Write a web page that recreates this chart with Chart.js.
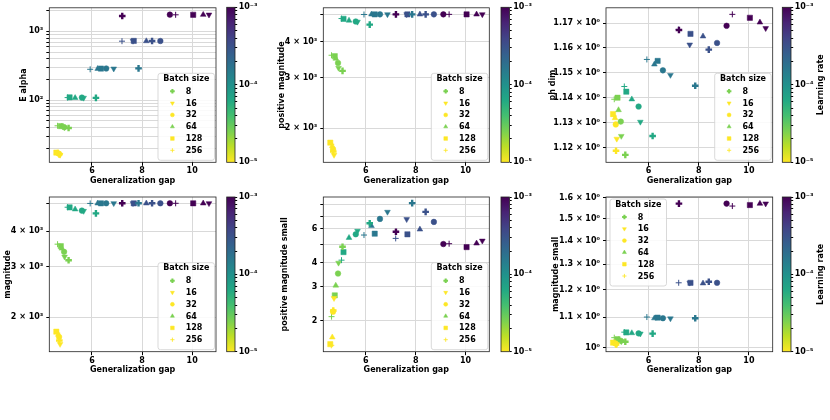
<!DOCTYPE html>
<html>
<head>
<meta charset="utf-8">
<script src="https://cdn.jsdelivr.net/npm/chart.js@4.4.1/dist/chart.umd.min.js"></script>
<style>
  body { margin: 0; background: #fff; width: 830px; height: 420px; position: relative; overflow: hidden; }
  canvas { position: absolute; left: 0; top: 0; }
</style>
</head>
<body>
<script>
// categories
const batchSizes = [8, 16, 32, 64, 128, 256];
const learningRates = [1e-5, 2.5e-5, 6.3e-5, 1.6e-4, 3.2e-4, 1e-3];

// rows follow learningRates, columns follow batchSizes
const genGap = [
    [4.70, 4.73, 4.69, 4.66, 4.58, 4.62],
    [5.07, 4.91, 4.89, 4.80, 4.76, 4.63],
    [6.16, 5.67, 5.60, 5.33, 5.11, 5.03],
    [7.86, 6.87, 6.57, 6.23, 6.36, 5.93],
    [8.40, 7.64, 8.73, 8.17, 7.67, 7.20],
    [7.21, 10.67, 9.11, 10.44, 10.04, 9.34]
];
const eAlpha = [
    [16.3, 16.0, 16.6, 17.0, 17.3, 17.2],
    [39.3, 40.0, 40.5, 41.5, 42.0, 42.4],
    [108, 108, 109, 108, 110, 109],
    [290, 287, 289, 286, 288, 281],
    [724, 725, 724, 722, 726, 720],
    [1670, 1745, 1748, 1745, 1742, 1740]
];
const positiveMagnitude = [
    [1660, 1615, 1692, 1736, 1783, 1760],
    [3170, 3248, 3380, 3500, 3567, 3595],
    [4595, 4700, 4715, 4750, 4815, 4825],
    [4990, 4990, 4990, 4990, 4990, 4985],
    [4990, 4990, 4990, 4990, 4990, 4990],
    [4990, 4990, 4990, 4990, 4990, 4990]
];
const phDim = [
    [1.1189, 1.1236, 1.1293, 1.1318, 1.1334, 1.1326],
    [1.1173, 1.1247, 1.1304, 1.1350, 1.1399, 1.1393],
    [1.1247, 1.1303, 1.1364, 1.1393, 1.1423, 1.1444],
    [1.1447, 1.1490, 1.1509, 1.1533, 1.1547, 1.1553],
    [1.1593, 1.1613, 1.1620, 1.1647, 1.1657, 1.1675],
    [1.1673, 1.1680, 1.1690, 1.1704, 1.1723, 1.1737]
];
const magnitude = [
    [1660, 1613, 1708, 1740, 1782, 1760],
    [3165, 3254, 3385, 3478, 3545, 3600],
    [4610, 4700, 4715, 4765, 4840, 4845],
    [5000, 5000, 5000, 5000, 5000, 4995],
    [5000, 5000, 5000, 5000, 5000, 5000],
    [5000, 5000, 5000, 5000, 5000, 5000]
];
const positiveMagnitudeSmall = [
    [2.26, 2.62, 2.23, 1.64, 1.51, 1.49],
    [4.85, 4.00, 3.52, 3.05, 2.71, 2.10],
    [6.43, 5.86, 5.63, 5.40, 4.55, 4.13],
    [8.18, 7.36, 6.77, 6.22, 5.67, 5.58],
    [7.36, 6.74, 6.53, 5.97, 5.63, 5.36],
    [5.80, 5.21, 5.01, 5.05, 4.83, 5.03]
];
const magnitudeSmall = [
    [1.010, 1.011, 1.013, 1.015, 1.016, 1.017],
    [1.019, 1.020, 1.022, 1.025, 1.027, 1.032],
    [1.045, 1.045, 1.046, 1.047, 1.049, 1.050],
    [1.097, 1.096, 1.097, 1.097, 1.099, 1.101],
    [1.230, 1.226, 1.226, 1.224, 1.226, 1.226],
    [1.572, 1.572, 1.572, 1.572, 1.565, 1.560]
];

// tick values and labels
const gapTicks = [6, 8, 10];
const eAlphaTicks = [20, 30, 40, 50, 60, 70, 80, 90, 100, 200, 300, 400, 500, 600, 700, 800, 900, 1000, 2000];
const eAlphaLabels = { 100: '10²', 1000: '10³' };
const magTicks = [2000, 3000, 4000, 5000];
const magLabels = { 2000: '2 × 10³', 3000: '3 × 10³', 4000: '4 × 10³' };
const phDimTicks = [1.12, 1.13, 1.14, 1.15, 1.16, 1.17];
const phDimLabels = { 1.12: '1.12 × 10⁰', 1.13: '1.13 × 10⁰', 1.14: '1.14 × 10⁰', 1.15: '1.15 × 10⁰', 1.16: '1.16 × 10⁰', 1.17: '1.17 × 10⁰' };
const posSmallTicks = [2, 3, 4, 5, 6, 7, 8];
const posSmallLabels = { 2: '2', 3: '3', 4: '4', 6: '6' };
const magSmallTicks = [1.0, 1.1, 1.2, 1.3, 1.4, 1.5, 1.6];
const magSmallLabels = { 1: '10⁰', 1.1: '1.1 × 10⁰', 1.2: '1.2 × 10⁰', 1.3: '1.3 × 10⁰', 1.4: '1.4 × 10⁰', 1.5: '1.5 × 10⁰', 1.6: '1.6 × 10⁰' };
const lrTicks = [1e-5, 2e-5, 3e-5, 4e-5, 5e-5, 6e-5, 7e-5, 8e-5, 9e-5,
    1e-4, 2e-4, 3e-4, 4e-4, 5e-4, 6e-4, 7e-4, 8e-4, 9e-4, 1e-3];
const lrLabels = { 1e-5: '10⁻⁵', 1e-4: '10⁻⁴', 1e-3: '10⁻³' };

// styling
const FONT = { family: 'DejaVu Sans', size: 8, weight: 'bold' };
const CSS_FONT = 'bold 8px "DejaVu Sans"';
const GRID = '#d9d9d9';
const VIRIDIS = ['#440154', '#482475', '#414487', '#355f8d', '#2a788e', '#21918c',
    '#22a884', '#44bf70', '#7ad151', '#bddf26', '#fde725'];

const markerStyles = [
    { style: 'cross', radius: 3.3, border: 2.4, rotation: 0 },     // 8
    { style: 'triangle', radius: 3.3, border: 0.5, rotation: 180 }, // 16
    { style: 'circle', radius: 2.8, border: 0.5, rotation: 0 },     // 32
    { style: 'triangle', radius: 3.3, border: 0.5, rotation: 0 },   // 64
    { style: 'rect', radius: 3.7, border: 0.5, rotation: 0 },       // 128
    { style: 'cross', radius: 3.0, border: 1, rotation: 0 }         // 256
];
const legendColors = ['#7ad151', '#fde725', '#fde725', '#7ad151', '#fde725', '#fde725'];

function hexToRgb(h) {
    return [parseInt(h.slice(1, 3), 16), parseInt(h.slice(3, 5), 16), parseInt(h.slice(5, 7), 16)];
}

function viridis(t) {
    t = Math.min(1, Math.max(0, t));
    const pos = t * (VIRIDIS.length - 1);
    const i = Math.min(Math.floor(pos), VIRIDIS.length - 2);
    const f = pos - i;
    const a = hexToRgb(VIRIDIS[i]), b = hexToRgb(VIRIDIS[i + 1]);
    const c = a.map((v, k) => Math.round(v + (b[k] - v) * f));
    return `rgb(${c[0]},${c[1]},${c[2]})`;
}

function lrColor(lr) {
    const t = (Math.log10(lr) + 5) / 2;
    return viridis(1 - t);
}

function addCanvas() {
    const c = document.createElement('canvas');
    c.width = 830;
    c.height = 420;
    c.style.width = '830px';
    c.style.height = '420px';
    document.body.appendChild(c);
    return c;
}

const framePlugin = {
    id: 'frame',
    afterDraw(chart) {
        const a = chart.chartArea;
        const ctx = chart.ctx;
        ctx.save();
        ctx.strokeStyle = '#222';
        ctx.lineWidth = 0.8;
        ctx.strokeRect(a.left, a.top, a.right - a.left, a.bottom - a.top);
        ctx.restore();
    }
};

function drawMarker(ctx, m, x, y, scale) {
    const opts = {
        pointStyle: m.style,
        radius: m.radius * scale,
        rotation: m.rotation,
        borderWidth: m.style === 'cross' ? m.border * 0.85 : m.border
    };
    ctx.lineWidth = opts.borderWidth;
    Chart.helpers.drawPoint(ctx, opts, x, y);
}

const legendPlugin = {
    id: 'batchLegend',
    afterDatasetsDraw(chart, args, opts) {
        if (!opts.pos) return;
        const a = chart.chartArea;
        const ctx = chart.ctx;
        const w = 56.5, h = 87;
        const left = opts.pos === 'lr' ? a.right - w - 1.5 : a.left + 4;
        const top = opts.pos === 'lr' ? a.bottom - h - 2 : a.top + 2;
        ctx.save();
        ctx.beginPath();
        ctx.roundRect(left, top, w, h, 2.5);
        ctx.fillStyle = 'rgba(255,255,255,0.85)';
        ctx.fill();
        ctx.strokeStyle = '#cfcfcf';
        ctx.lineWidth = 0.8;
        ctx.stroke();
        ctx.font = CSS_FONT;
        ctx.fillStyle = '#000';
        ctx.textBaseline = 'middle';
        ctx.textAlign = 'center';
        ctx.fillText('Batch size', left + w / 2, top + 5.5);
        ctx.textAlign = 'left';
        batchSizes.forEach((b, j) => {
            const y = top + 18 + j * 11.8;
            ctx.fillStyle = legendColors[j];
            ctx.strokeStyle = legendColors[j];
            drawMarker(ctx, markerStyles[j], left + 14.4, y, 0.7);
            ctx.fillStyle = '#000';
            ctx.fillText(String(b), left + 27.7, y + 0.5);
        });
        ctx.restore();
    }
};

const cbarTitlePlugin = {
    id: 'cbarTitle',
    afterDraw(chart, args, opts) {
        if (!opts.text) return;
        const a = chart.chartArea;
        const ctx = chart.ctx;
        ctx.save();
        ctx.translate(opts.x, (a.top + a.bottom) / 2);
        ctx.rotate(-Math.PI / 2);
        ctx.font = CSS_FONT;
        ctx.fillStyle = '#000';
        ctx.textAlign = 'center';
        ctx.textBaseline = 'middle';
        ctx.fillText(opts.text, 0, 0);
        ctx.restore();
    }
};

function datasetsFor(values) {
    const colors = learningRates.map(lrColor);
    return batchSizes.map((b, j) => {
        const m = markerStyles[j];
        return {
            label: String(b),
            data: learningRates.map((lr, i) => ({ x: genGap[i][j], y: values[i][j] })),
            pointStyle: m.style,
            pointRadius: m.radius,
            pointRotation: m.rotation,
            pointBorderWidth: m.border,
            pointBackgroundColor: colors,
            pointBorderColor: colors,
            showLine: false
        };
    });
}

function scatterPanel(p) {
    const [L, T, R, B] = p.area;
    const padLeft = p.ylabelX - 4.8;
    const padBottom = 420 - (p.xlabelY + 4.8);
    new Chart(addCanvas(), {
        type: 'scatter',
        data: { datasets: datasetsFor(p.values) },
        options: {
            responsive: false,
            animation: false,
            events: [],
            layout: { padding: { left: padLeft, top: T, right: 830 - R, bottom: padBottom } },
            scales: {
                x: {
                    type: 'linear',
                    min: 4.3,
                    max: 10.95,
                    afterBuildTicks: s => { s.ticks = gapTicks.map(v => ({ value: v })); },
                    afterFit: s => { s.height = 420 - padBottom - B; },
                    border: { display: false },
                    grid: { color: GRID, tickColor: '#000', tickLength: 3.5 },
                    ticks: { font: FONT, color: '#000', padding: 0.5, autoSkip: false, maxRotation: 0, callback: v => String(v) },
                    title: { display: true, text: 'Generalization gap', font: FONT, color: '#000', padding: 0 }
                },
                y: {
                    type: 'logarithmic',
                    min: p.yMin,
                    max: p.yMax,
                    afterBuildTicks: s => { s.ticks = p.ticks.map(v => ({ value: v })); },
                    afterFit: s => { s.width = L - padLeft; },
                    border: { display: false },
                    grid: { color: GRID, tickColor: '#000', tickLength: 3 },
                    ticks: { font: FONT, color: '#000', padding: 3, autoSkip: false, callback: v => p.labels[v] || '' },
                    title: { display: true, text: p.ylabel, font: FONT, color: '#000', padding: 0 }
                }
            },
            plugins: {
                legend: { display: false },
                tooltip: { enabled: false },
                batchLegend: { pos: p.legend }
            }
        },
        plugins: [framePlugin, legendPlugin]
    });
}

function gradientFill(context) {
    const chart = context.chart;
    const a = chart.chartArea;
    if (!a) return '#21918c';
    const g = chart.ctx.createLinearGradient(0, a.bottom, 0, a.top);
    VIRIDIS.slice().reverse().forEach((c, i) => g.addColorStop(i / (VIRIDIS.length - 1), c));
    return g;
}

function colorbarPanel(c) {
    const [L, T, R, B] = c.area;
    const axisWidth = 30;
    new Chart(addCanvas(), {
        type: 'bar',
        data: {
            labels: ['Learning rate'],
            datasets: [{
                data: [[lrTicks[0], lrTicks[lrTicks.length - 1]]],
                backgroundColor: gradientFill,
                borderWidth: 0,
                barPercentage: 1,
                categoryPercentage: 1
            }]
        },
        options: {
            responsive: false,
            animation: false,
            events: [],
            layout: { padding: { left: L, top: T, right: 830 - R - axisWidth, bottom: 420 - B } },
            scales: {
                x: { display: false },
                y: {
                    type: 'logarithmic',
                    position: 'right',
                    min: 1e-5,
                    max: 1e-3,
                    afterBuildTicks: s => { s.ticks = lrTicks.map(v => ({ value: v })); },
                    afterFit: s => { s.width = axisWidth; },
                    border: { display: false },
                    grid: { drawOnChartArea: false, tickColor: '#000', tickLength: 2.2 },
                    ticks: { font: FONT, color: '#000', padding: 1.5, autoSkip: false, callback: v => lrLabels[v] || '' }
                }
            },
            plugins: {
                legend: { display: false },
                tooltip: { enabled: false },
                cbarTitle: { text: c.title, x: 821 }
            }
        },
        plugins: [framePlugin, cbarTitlePlugin]
    });
}

const topY = [7.3, 162.3];
const botY = [197, 351.7];

scatterPanel({ values: eAlpha, ylabel: 'E alpha', area: [49.3, topY[0], 216, topY[1]], ylabelX: 23.5, xlabelY: 181,
    yMin: 12.5, yMax: 2200, ticks: eAlphaTicks, labels: eAlphaLabels, legend: 'lr' });
scatterPanel({ values: positiveMagnitude, ylabel: 'positive magnitude', area: [323.3, topY[0], 489.3, topY[1]], ylabelX: 282, xlabelY: 181,
    yMin: 1523, yMax: 5260, ticks: magTicks, labels: magLabels, legend: 'lr' });
scatterPanel({ values: phDim, ylabel: 'ph dim', area: [606, topY[0], 772.7, topY[1]], ylabelX: 553, xlabelY: 181,
    yMin: 1.1144, yMax: 1.1764, ticks: phDimTicks, labels: phDimLabels, legend: 'lr' });
scatterPanel({ values: magnitude, ylabel: 'magnitude', area: [49.3, botY[0], 216, botY[1]], ylabelX: 8.3, xlabelY: 370,
    yMin: 1517, yMax: 5260, ticks: magTicks, labels: magLabels, legend: 'lr' });
scatterPanel({ values: positiveMagnitudeSmall, ylabel: 'positive magnitude small', area: [323.3, botY[0], 489.3, botY[1]], ylabelX: 285, xlabelY: 370,
    yMin: 1.38, yMax: 8.8, ticks: posSmallTicks, labels: posSmallLabels, legend: 'lr' });
scatterPanel({ values: magnitudeSmall, ylabel: 'magnitude small', area: [606, botY[0], 772.7, botY[1]], ylabelX: 556, xlabelY: 370,
    yMin: 0.9875, yMax: 1.605, ticks: magSmallTicks, labels: magSmallLabels, legend: 'ul' });

colorbarPanel({ area: [226.7, topY[0], 235, topY[1]] });
colorbarPanel({ area: [501, topY[0], 509.5, topY[1]] });
colorbarPanel({ area: [782.3, topY[0], 791, topY[1]], title: 'Learning rate' });
colorbarPanel({ area: [226.7, botY[0], 235, botY[1]] });
colorbarPanel({ area: [501, botY[0], 509.5, botY[1]] });
colorbarPanel({ area: [782.3, botY[0], 791, botY[1]], title: 'Learning rate' });
</script>
</body>
</html>
